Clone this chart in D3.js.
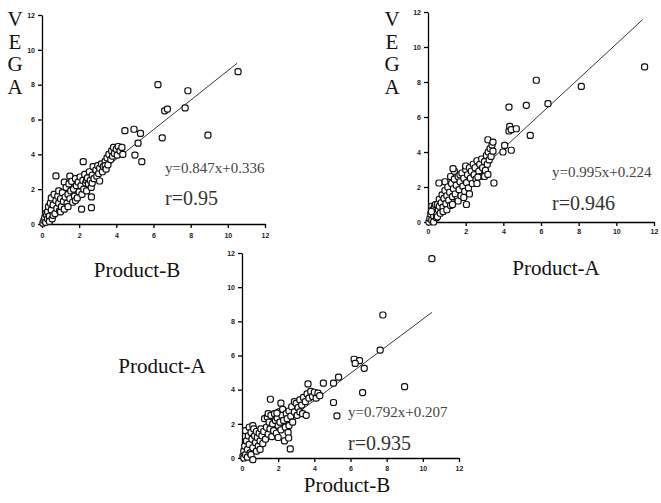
<!DOCTYPE html>
<html>
<head>
<meta charset="utf-8">
<script src="https://cdn.jsdelivr.net/npm/d3@7"></script>
<style>
  body { margin: 0; background: #fff; }
  svg { display: block; }
  .tick text { font-family: Arial, "Liberation Sans", sans-serif; font-weight: bold; font-size: 7px; fill: #222; }
  .domain, .tick line { stroke: #000; stroke-width: 1.3px; }
</style>
</head>
<body>
<div id="chart"></div>
<script>
// tick values shared by all three panels
var tickValues = [0, 2, 4, 6, 8, 10, 12];

// fit labels
var equations = ["y=0.847x+0.336", "y=0.995x+0.224", "y=0.792x+0.207"];
var rValues = ["r=0.95", "r=0.946", "r=0.935"];
var slopes = [0.847, 0.995, 0.792];
var intercepts = [0.336, 0.224, 0.207];
var lineEnds = [10.5, 11.4, 10.5];

// VEGA (y) vs Product-B (x)
var vegaVsB = [
  [0.05,0.05],[0.1,0.2],[0.15,0.35],[0.2,0.1],[0.2,0.6],[0.25,0.5],[0.3,0.3],[0.3,0.7],[0.35,1.0],[0.4,0.45],
  [0.4,0.15],[0.45,1.2],[0.5,0.8],[0.5,1.5],[0.55,0.3],[0.6,1.1],[0.6,0.5],[0.65,1.7],[0.7,0.6],[0.75,1.35],
  [0.8,0.9],[0.85,1.6],[0.9,1.2],[0.9,1.9],[0.95,0.75],[1.0,1.45],[1.0,0.7],[1.05,1.0],[1.1,1.8],[1.15,1.3],
  [1.2,0.85],[1.2,2.4],[1.25,1.55],[1.3,2.1],[1.35,1.2],[1.4,1.7],[1.4,1.0],[1.45,2.3],[1.5,1.45],[1.5,2.75],
  [1.55,1.9],[1.6,2.45],[1.65,1.25],[1.7,2.0],[1.75,1.6],[1.8,2.6],[1.8,1.35],[1.85,2.2],[1.9,1.5],[1.95,2.4],
  [2.0,1.85],[2.05,2.7],[2.1,2.2],[2.15,1.7],[2.2,2.5],[2.25,2.0],[2.3,2.85],[2.35,2.35],[2.4,1.9],[2.4,2.5],
  [2.45,2.65],[2.5,2.3],[2.55,3.0],[2.6,2.5],[2.65,2.1],[2.7,2.8],[2.7,2.35],[2.75,3.3],[2.8,2.6],[2.9,3.1],
  [2.95,2.75],[3.0,3.35],[3.05,2.9],[3.1,3.2],[3.2,3.45],[3.25,3.0],[3.3,3.3],[3.4,3.6],[3.4,3.35],[3.45,3.15],
  [3.5,3.8],[3.55,3.4],[3.6,4.0],[3.7,3.7],[3.75,4.2],[3.8,3.9],[3.85,4.4],[3.9,4.05],[4.0,4.3],[4.05,3.95],
  [4.1,4.45],[4.2,4.2],[4.3,4.4],[4.35,4.0],
  [0.75,2.76],[2.22,3.58],[2.13,0.85],[2.66,0.94],[2.66,1.56],[3.1,2.47],
  [4.46,5.36],[4.95,5.44],[5.3,5.2],[5.17,4.64],[5.0,3.96],[5.37,3.58],
  [6.24,8.0],[7.85,7.65],[7.7,6.67],[6.6,6.5],[6.75,6.6],[10.55,8.75],[8.93,5.1],[6.47,4.95]
];

// VEGA (y) vs Product-A (x)
var vegaVsA = [
  [0.05,0.0],[0.1,0.2],[0.15,0.45],[0.2,0.1],[0.2,0.9],[0.25,0.7],[0.3,0.35],[0.3,0.0],[0.35,0.9],[0.4,0.55],
  [0.4,1.0],[0.45,0.25],[0.5,1.0],[0.5,0.3],[0.55,0.7],[0.6,1.3],[0.6,0.9],[0.65,0.5],[0.7,1.1],[0.75,1.55],
  [0.8,0.85],[0.8,0.6],[0.85,1.35],[0.9,1.8],[0.9,2.3],[0.95,1.05],[1.0,1.5],[1.0,0.7],[1.05,2.0],[1.1,1.25],
  [1.15,1.7],[1.2,0.95],[1.2,2.6],[1.25,2.2],[1.3,1.45],[1.3,1.0],[1.35,1.9],[1.4,2.45],[1.4,2.9],[1.45,1.6],
  [1.5,2.1],[1.55,1.3],[1.6,2.6],[1.6,1.2],[1.65,1.85],[1.7,2.3],[1.7,2.7],[1.75,1.5],[1.8,2.8],[1.85,2.05],
  [1.9,2.5],[1.9,1.4],[1.95,1.75],[2.0,3.0],[2.0,3.2],[2.05,2.25],[2.1,2.7],[2.15,1.95],[2.2,3.1],[2.2,1.6],
  [2.25,2.5],[2.3,2.9],[2.35,2.2],[2.4,3.3],[2.45,2.7],[2.5,3.1],[2.55,2.45],[2.6,3.5],[2.6,2.2],[2.7,2.9],
  [2.75,3.3],[2.8,2.6],[2.85,3.6],[2.9,3.1],[3.0,3.45],[3.0,2.6],[3.05,2.95],[3.1,3.8],[3.15,3.3],[3.2,4.0],
  [3.25,3.55],[3.3,4.2],[3.35,3.75],[3.4,4.4],[3.45,4.05],
  [0.18,0.6],[0.58,2.23],[1.33,3.05],[2.04,1.0],[2.65,2.57],[3.18,2.72],[3.5,2.23],[3.18,4.7],[3.45,4.57],
  [3.98,4.0],[4.07,4.38],[4.42,4.1],[4.3,5.2],[4.34,5.47],[4.42,5.28],[4.69,5.33],[5.43,4.95],
  [4.3,6.57],[5.22,6.67],[6.37,6.76],[5.75,8.1],[8.14,7.75],[11.5,8.86]
];

// Product-A (y) vs Product-B (x)
var aVsB = [
  [0.05,0.1],[0.1,0.4],[0.1,0.0],[0.15,0.7],[0.2,0.2],[0.2,1.6],[0.25,1.0],[0.3,0.5],[0.3,0.05],[0.35,1.3],
  [0.4,0.8],[0.4,1.8],[0.45,0.3],[0.5,1.5],[0.5,0.2],[0.55,1.1],[0.6,0.6],[0.6,1.9],[0.65,1.7],[0.7,1.3],
  [0.75,0.9],[0.8,1.55],[0.8,0.4],[0.85,1.2],[0.9,0.7],[0.95,1.45],[1.0,1.0],[1.0,0.5],[1.05,1.7],[1.1,1.3],
  [1.15,0.85],[1.2,1.55],[1.25,2.3],[1.3,1.1],[1.35,1.8],[1.4,2.4],[1.45,1.4],[1.45,2.6],[1.5,2.1],[1.55,1.7],
  [1.6,2.5],[1.65,1.25],[1.7,2.0],[1.75,1.6],[1.8,2.6],[1.85,2.2],[1.9,1.45],[1.95,2.35],[2.0,1.9],[2.0,1.2],
  [2.05,2.7],[2.1,2.1],[2.15,1.65],[2.2,2.5],[2.25,2.85],[2.3,2.2],[2.35,1.0],[2.4,1.8],[2.45,2.6],[2.5,2.3],
  [2.55,1.5],[2.6,2.75],[2.6,1.9],[2.7,2.45],[2.75,3.0],[2.8,2.1],[2.9,2.7],[2.9,3.3],[3.0,3.2],[3.05,2.5],
  [3.1,2.95],[3.2,3.4],[3.2,2.7],[3.3,3.1],[3.35,2.6],[3.4,3.55],[3.5,3.3],[3.55,2.5],[3.6,3.75],[3.7,3.5],
  [3.8,3.9],[3.9,3.6],[4.0,3.85],[4.1,3.5],[4.2,3.8],[4.3,3.65],
  [0.6,-0.1],[1.57,3.44],[2.15,3.21],[2.67,0.53],[2.58,1.17],[1.93,2.63],
  [3.65,4.34],[4.5,4.38],[5.06,4.38],[5.34,4.73],[5.06,3.25],[5.25,2.47],
  [6.2,5.78],[6.5,5.7],[6.26,5.54],[6.76,5.25],[6.67,3.83],[7.64,6.32],[7.79,8.37],[8.99,4.18],[10.5,11.67]
];

var W = 661, H = 503;
var serif = "'Liberation Serif', 'Times New Roman', serif";
var svg = d3.select("#chart").append("svg").attr("width", W).attr("height", H);

var panels = [
  { data: vegaVsB, x0: 42, x1: 265, y0: 224, y1: 15, lab: 12,
    eqX: 165, eqY: 173, rY: 205 },
  { data: vegaVsA, x0: 428, x1: 654, y0: 222, y1: 12, lab: 10,
    eqX: 552, eqY: 177, rY: 210 },
  { data: aVsB, x0: 242, x1: 459, y0: 458, y1: 253, lab: 11,
    eqX: 348, eqY: 417, rY: 450 }
];

panels.forEach(function(p, i) {
  var x = d3.scaleLinear().domain([0, 12]).range([p.x0, p.x1]);
  var y = d3.scaleLinear().domain([0, 12]).range([p.y0, p.y1]);

  svg.append("g")
    .attr("transform", "translate(0," + p.y0 + ")")
    .call(d3.axisBottom(x).tickValues(tickValues).tickSize(4).tickSizeOuter(0).tickPadding(p.lab - 7));

  svg.append("g")
    .attr("transform", "translate(" + p.x0 + ",0)")
    .call(d3.axisLeft(y).tickValues(tickValues).tickSize(4).tickSizeOuter(0).tickPadding(3));

  // fitted line
  svg.append("line")
    .attr("x1", x(0)).attr("y1", y(intercepts[i]))
    .attr("x2", x(lineEnds[i])).attr("y2", y(slopes[i] * lineEnds[i] + intercepts[i]))
    .attr("stroke", "#222").attr("stroke-width", 0.9);

  svg.append("g").selectAll("rect")
    .data(p.data)
    .enter().append("rect")
      .attr("x", function(d) { return x(d[0]) - 3; })
      .attr("y", function(d) { return y(d[1]) - 3; })
      .attr("width", 6).attr("height", 6)
      .attr("rx", 2.2).attr("ry", 2.2)
      .attr("fill", "#fff")
      .attr("stroke", "#111")
      .attr("stroke-width", 1.2);

  svg.append("text")
    .attr("x", p.eqX).attr("y", p.eqY)
    .attr("font-family", serif).attr("font-size", 15).attr("fill", "#444")
    .text(equations[i]);

  svg.append("text")
    .attr("x", p.eqX).attr("y", p.rY)
    .attr("font-family", serif).attr("font-size", 20).attr("fill", "#333")
    .text(rValues[i]);
});

// vertical VEGA labels
[15, 392].forEach(function(cx) {
  ["V", "E", "G", "A"].forEach(function(ch, k) {
    svg.append("text")
      .attr("x", cx).attr("y", 26 + k * 22.7)
      .attr("text-anchor", "middle")
      .attr("font-family", serif).attr("font-size", 21).attr("fill", "#111")
      .text(ch);
  });
});

// axis titles
var titles = [
  { t: "Product-B", x: 137, y: 277 },
  { t: "Product-A", x: 556, y: 275 },
  { t: "Product-A", x: 162, y: 373 },
  { t: "Product-B", x: 347, y: 492 }
];
titles.forEach(function(d) {
  svg.append("text")
    .attr("x", d.x).attr("y", d.y)
    .attr("text-anchor", "middle")
    .attr("font-family", serif).attr("font-size", 21).attr("fill", "#111")
    .text(d.t);
});
</script>
</body>
</html>
